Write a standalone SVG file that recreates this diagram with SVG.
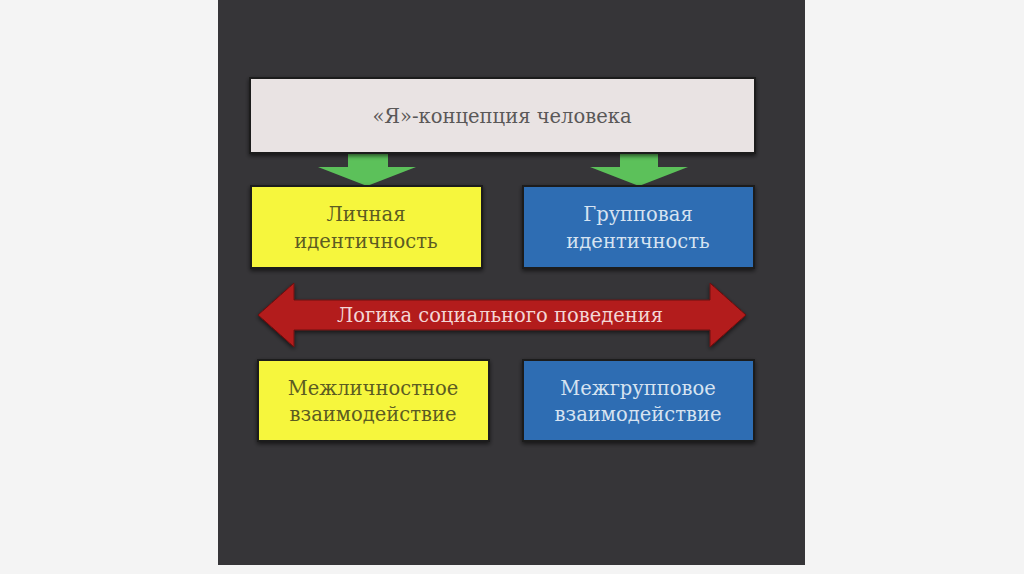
<svg xmlns="http://www.w3.org/2000/svg" width="1024" height="574" viewBox="0 0 1024 574">
<defs>
<style>
.t{font-family:"DejaVu Serif","Liberation Serif",serif;font-size:19.5px;text-anchor:middle}
.box{stroke:#1e1e1e;stroke-width:2}
</style>
<filter id="sh" x="-10%" y="-10%" width="120%" height="130%"><feDropShadow dx="0" dy="2" stdDeviation="2" flood-color="#000" flood-opacity="0.6"/></filter>
</defs>
<rect width="1024" height="574" fill="#f4f4f4"/>
<rect x="218" y="0" width="587" height="565" fill="#363538"/>
<g id="connectors">
<polygon points="348,153 388,153 388,167 416,167 367,186 318,167 348,167" fill="#5cc15a"/>
<polygon points="620,153 658,153 658,167 688,167 639,186 590,167 620,167" fill="#5cc15a"/>
<polygon points="258,315 294,283 294,300 710,300 710,283 746,315 710,347 710,330 294,330 294,347" fill="#b31a1a" stroke="#6a1010" stroke-width="1" filter="url(#sh)"/>
<text class="t" x="500" y="322" fill="#f3d6d6">Логика социального поведения</text>
</g>
<g id="top">
<rect class="box" x="250" y="78" width="505" height="75" fill="#e9e3e3" filter="url(#sh)"/>
<text class="t" x="502" y="123" fill="#5a5858">«Я»-концепция человека</text>
</g>
<g id="personal">
<rect class="box" x="251" y="186" width="231" height="82" fill="#f6f63e" filter="url(#sh)"/>
<text class="t" x="366" y="221" fill="#5c5c22">Личная</text>
<text class="t" x="366" y="248" fill="#5c5c22">идентичность</text>
</g>
<g id="group">
<rect class="box" x="523" y="186" width="231" height="82" fill="#2f6db3" filter="url(#sh)"/>
<text class="t" x="638" y="221" fill="#d6e3f1">Групповая</text>
<text class="t" x="638" y="248" fill="#d6e3f1">идентичность</text>
</g>
<g id="interpersonal">
<rect class="box" x="258" y="360" width="231" height="81" fill="#f6f63e" filter="url(#sh)"/>
<text class="t" x="373" y="395" fill="#5c5c22">Межличностное</text>
<text class="t" x="373" y="421" fill="#5c5c22">взаимодействие</text>
</g>
<g id="intergroup">
<rect class="box" x="523" y="360" width="231" height="81" fill="#2f6db3" filter="url(#sh)"/>
<text class="t" x="638" y="395" fill="#d6e3f1">Межгрупповое</text>
<text class="t" x="638" y="421" fill="#d6e3f1">взаимодействие</text>
</g>
</svg>
